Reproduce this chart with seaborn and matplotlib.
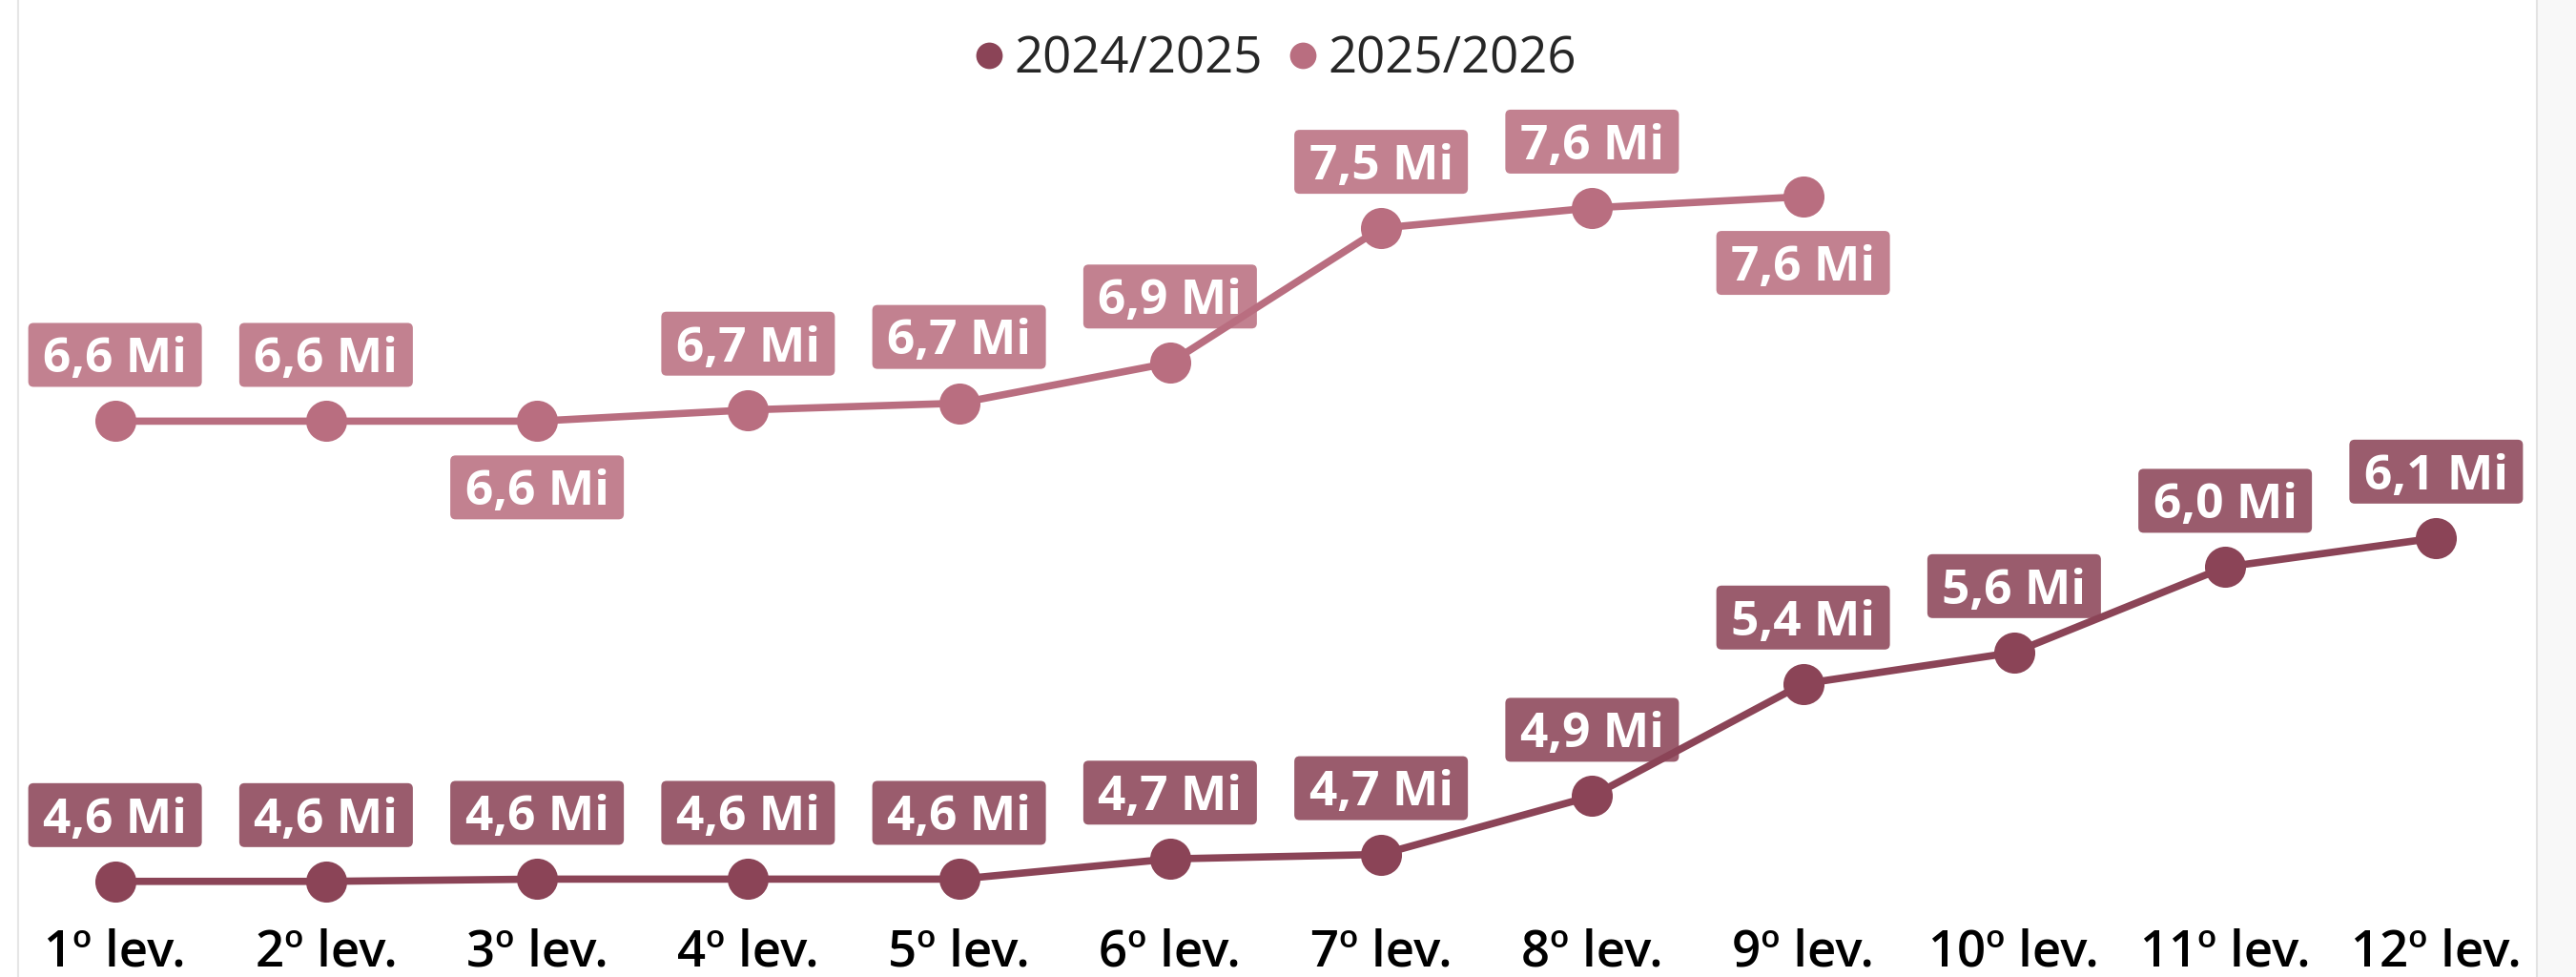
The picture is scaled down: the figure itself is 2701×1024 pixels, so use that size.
import numpy as np
import pandas as pd
import matplotlib
matplotlib.use("Agg")
import matplotlib.pyplot as plt
import seaborn as sns
from matplotlib.patches import FancyBboxPatch, Rectangle
from matplotlib.lines import Line2D
from matplotlib.transforms import Affine2D, ScaledTranslation

# ---------------- data ----------------
levels = ["1º lev.", "2º lev.", "3º lev.", "4º lev.", "5º lev.", "6º lev.",
          "7º lev.", "8º lev.", "9º lev.", "10º lev.", "11º lev.", "12º lev."]
season_names = ["2024/2025", "2025/2026"]
values_2024_2025 = [4.56, 4.56, 4.57, 4.57, 4.57, 4.66, 4.68, 4.94, 5.44, 5.58, 5.96, 6.09]
values_2025_2026 = [6.61, 6.61, 6.61, 6.66, 6.69, 6.87, 7.47, 7.56, 7.61]
unit_suffix = " Mi"

# ---------------- style ----------------
sns.set_theme(style="white")
plt.rcParams["font.family"] = ["Open Sans", "DejaVu Sans"]

W, H, DPI = 2701, 1024, 100
fig = plt.figure(figsize=(W / DPI, H / DPI), dpi=DPI, facecolor="white")
ax = fig.add_axes([10 / W, 64 / H, 2655 / W, 960 / H])
ax.set_facecolor("none")

line_colors = {"2024/2025": "#8B4457", "2025/2026": "#B96E80"}

rows = []
for lev, v in zip(levels, values_2024_2025):
    rows.append({"lev": lev, "value": v, "season": season_names[0]})
for lev, v in zip(levels, values_2025_2026):
    rows.append({"lev": lev, "value": v, "season": season_names[1]})
df = pd.DataFrame(rows)

sns.lineplot(data=df, x="lev", y="value", hue="season", hue_order=season_names,
             palette=line_colors, marker="o", markersize=31, markeredgewidth=0,
             linewidth=5.5, sort=False, legend=False, ax=ax, zorder=2)

ax.set_xlim(-0.5, len(levels) - 0.5)
ax.set_ylim(4.406, 8.486)
for s in ax.spines.values():
    s.set_visible(False)
ax.set_yticks([])
ax.set_xticks(range(len(levels)))
ax.set_xticklabels(levels, fontsize=38, fontweight="semibold", color="black")
ax.tick_params(axis="x", length=0, pad=9)
ax.set_xlabel("")
ax.set_ylabel("")
ax.grid(False)

# ---------------- data labels ----------------
px2pt = 72.0 / DPI
box_w, box_h = 182 * px2pt, 67 * px2pt
offset = 50  # points
label_fs = 37

def add_label(i, v, color, below=False):
    dy = -offset if below else offset
    trans = Affine2D().scale(DPI / 72.0) + ScaledTranslation(i, v, ax.transData)
    patch = FancyBboxPatch((-box_w / 2, dy - box_h / 2), box_w, box_h,
                           boxstyle="round,pad=0,rounding_size=4",
                           facecolor=color, edgecolor="none", alpha=0.87,
                           transform=trans, zorder=3, clip_on=False)
    ax.add_artist(patch)
    txt = f"{v:.1f}".replace(".", ",") + unit_suffix
    ax.annotate(txt, xy=(i, v), xytext=(0, dy - 0.357 * label_fs),
                textcoords="offset points", ha="center", va="baseline",
                fontsize=label_fs, fontweight="bold", color="white",
                zorder=4, annotation_clip=False)

for i, v in enumerate(values_2024_2025):
    add_label(i, v, line_colors["2024/2025"])
below_idx = {2, 8}
for i, v in enumerate(values_2025_2026):
    add_label(i, v, line_colors["2025/2026"], below=(i in below_idx))

# ---------------- legend ----------------
handles = [Line2D([0], [0], marker="o", linestyle="none", markersize=20,
                  markeredgewidth=0, markerfacecolor=line_colors[s]) for s in season_names]
fig.legend(handles, season_names, loc="center", bbox_to_anchor=(0.495, 0.939),
           ncol=2, frameon=False, fontsize=38, handlelength=0.6,
           handletextpad=0.2, columnspacing=0.5, borderpad=0)

# ---------------- frame decorations ----------------
fig.add_artist(Line2D([19 / W, 19 / W], [0, 1], color="#E6E6E6", lw=1.5,
                      transform=fig.transFigure))
fig.add_artist(Rectangle((2660 / W, 0), (W - 2660) / W, 1, facecolor="#F8F8F8",
                         edgecolor="none", transform=fig.transFigure))
fig.add_artist(Line2D([2660 / W, 2660 / W], [0, 1], color="#E3E3E3", lw=1.5,
                      transform=fig.transFigure))

fig.savefig("out.png", dpi=DPI, facecolor="white")
